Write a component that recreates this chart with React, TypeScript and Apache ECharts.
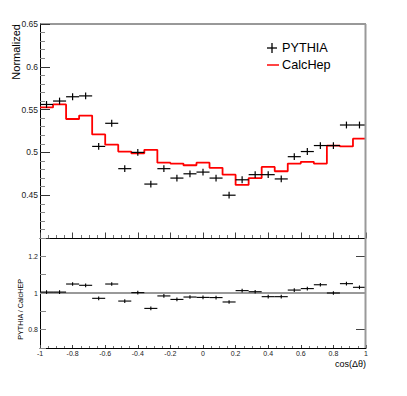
import React, { useEffect, useRef } from "react";
import * as echarts from "echarts";

// Bin centres and edges of cos(Δθ)
const binCenters = [-0.96, -0.88, -0.8, -0.72, -0.64, -0.56, -0.48, -0.4, -0.32, -0.24, -0.16, -0.08, 0, 0.08, 0.16, 0.24, 0.32, 0.4, 0.48, 0.56, 0.64, 0.72, 0.8, 0.88, 0.96];
const binEdges = [-1, -0.92, -0.84, -0.76, -0.68, -0.6, -0.52, -0.44, -0.36, -0.28, -0.2, -0.12, -0.04, 0.04, 0.12, 0.2, 0.28, 0.36, 0.44, 0.52, 0.6, 0.68, 0.76, 0.84, 0.92, 1];
const binHalfWidth = 0.04;

// PYTHIA (points with errors)
const pythia = [0.556, 0.56, 0.565, 0.566, 0.507, 0.534, 0.481, 0.5, 0.463, 0.481, 0.47, 0.475, 0.477, 0.47, 0.45, 0.468, 0.474, 0.474, 0.469, 0.495, 0.501, 0.508, 0.508, 0.532, 0.532];
const pythiaErr = [0.004, 0.004, 0.004, 0.004, 0.004, 0.004, 0.004, 0.004, 0.004, 0.004, 0.004, 0.004, 0.004, 0.004, 0.004, 0.004, 0.004, 0.004, 0.004, 0.004, 0.004, 0.004, 0.004, 0.004, 0.004];

// CalcHep histogram
const calchep = [0.5525, 0.556, 0.539, 0.543, 0.521, 0.509, 0.501, 0.499, 0.503, 0.488, 0.487, 0.485, 0.488, 0.482, 0.474, 0.462, 0.47, 0.483, 0.478, 0.487, 0.489, 0.487, 0.508, 0.507, 0.516];

// Ratio PYTHIA / CalcHEP
const ratio = [1.005, 1.005, 1.049, 1.042, 0.971, 1.049, 0.956, 1.002, 0.916, 0.984, 0.965, 0.978, 0.976, 0.975, 0.951, 1.013, 1.007, 0.98, 0.98, 1.016, 1.024, 1.045, 1.0, 1.051, 1.031];
const ratioErr = [0.01, 0.01, 0.01, 0.01, 0.01, 0.01, 0.01, 0.01, 0.01, 0.01, 0.01, 0.01, 0.01, 0.01, 0.01, 0.01, 0.01, 0.01, 0.01, 0.01, 0.01, 0.01, 0.01, 0.01, 0.01];

const ratioMajorTicks = [0.8, 1, 1.2];

const FONT = '"Liberation Sans", Arial, Helvetica, sans-serif';

function crossRenderer(lineWidth: number) {
  return (params: any, api: any) => {
    const x = api.value(0);
    const y = api.value(1);
    const e = api.value(2);
    const a = api.coord([x - binHalfWidth, y]);
    const b = api.coord([x + binHalfWidth, y]);
    const c = api.coord([x, y - e]);
    const d = api.coord([x, y + e]);
    return {
      type: "group",
      children: [
        { type: "line", shape: { x1: a[0], y1: a[1], x2: b[0], y2: b[1] }, style: { stroke: "#000", lineWidth } },
        { type: "line", shape: { x1: c[0], y1: c[1], x2: d[0], y2: d[1] }, style: { stroke: "#000", lineWidth } },
      ],
    };
  };
}

export default function App() {
  const ref = useRef<HTMLDivElement>(null);
  useEffect(() => {
    if (!ref.current) return;
    const chart = echarts.init(ref.current, undefined, { renderer: "svg" });

    const stepData: number[][] = [];
    for (let i = 0; i < calchep.length; i++) {
      stepData.push([binEdges[i], calchep[i]]);
      stepData.push([binEdges[i + 1], calchep[i]]);
    }

    const fmtX = (v: number) => String(Number(v.toFixed(2)));

    const option: any = {
      animation: false,
      backgroundColor: "#fff",
      textStyle: { fontFamily: FONT },
      grid: [
        { left: 40, top: 24, width: 326, height: 214 },
        { left: 40, top: 238, width: 326, height: 110 },
      ],
      xAxis: [
        {
          type: "value", gridIndex: 0, min: -1, max: 1, interval: 0.2,
          axisLine: { show: true, onZero: false, lineStyle: { color: "#000", width: 1 } },
          axisTick: { show: true, inside: true, length: 5.5, lineStyle: { color: "#444" } },
          minorTick: { show: true, splitNumber: 4, length: 3, lineStyle: { color: "#777" } },
          axisLabel: { show: false },
          splitLine: { show: false },
        },
        {
          type: "value", gridIndex: 1, min: -1, max: 1, interval: 0.2,
          axisLine: { show: true, onZero: false, lineStyle: { color: "#000", width: 1 } },
          axisTick: { show: true, inside: true, length: 3, lineStyle: { color: "#444" } },
          minorTick: { show: true, splitNumber: 4, length: 2, lineStyle: { color: "#777" } },
          axisLabel: { show: true, margin: 2, fontSize: 7, color: "#222", fontFamily: FONT, formatter: fmtX },
          splitLine: { show: false },
        },
      ],
      yAxis: [
        {
          type: "value", gridIndex: 0, min: 0.4, max: 0.65, interval: 0.05,
          axisLine: { show: true, onZero: false, lineStyle: { color: "#000", width: 1 } },
          axisTick: { show: true, inside: true, length: 10, lineStyle: { color: "#333" } },
          minorTick: { show: true, splitNumber: 5, length: 5, lineStyle: { color: "#888" } },
          axisLabel: { show: true, margin: 2, fontSize: 8.5, color: "#222", fontFamily: FONT, showMinLabel: false },
          splitLine: { show: false },
        },
        {
          type: "value", gridIndex: 1, min: 0.7, max: 1.3, interval: 0.1,
          axisLine: { show: true, onZero: false, lineStyle: { color: "#000", width: 1 } },
          axisTick: { show: true, inside: true, length: 6, lineStyle: { color: "#888" } },
          axisLabel: {
            show: true, margin: 2, fontSize: 7, color: "#222", fontFamily: FONT,
            formatter: (v: number) => {
              const r = Number(v.toFixed(2));
              return ratioMajorTicks.indexOf(r) >= 0 ? String(r) : "";
            },
          },
          splitLine: { show: false },
        },
        {
          type: "value", gridIndex: 1, min: 0.7, max: 1.3,
          axisLine: { show: false, onZero: false },
          axisTick: { show: true, inside: true, length: 10, customValues: ratioMajorTicks, lineStyle: { color: "#444" } },
          axisLabel: { show: false },
          splitLine: { show: false },
        },
      ],
      series: [
        {
          type: "line", xAxisIndex: 0, yAxisIndex: 0, data: stepData,
          showSymbol: false, symbol: "none",
          lineStyle: { color: "#ff0000", width: 1.8 },
          z: 2,
        },
        {
          type: "custom", xAxisIndex: 0, yAxisIndex: 0,
          data: binCenters.map((x, i) => [x, pythia[i], pythiaErr[i]]),
          renderItem: crossRenderer(1.2),
          z: 3,
        },
        {
          type: "custom", xAxisIndex: 1, yAxisIndex: 1,
          data: binCenters.map((x, i) => [x, ratio[i], ratioErr[i]]),
          renderItem: crossRenderer(1.1),
          z: 3,
          markLine: {
            silent: true, symbol: "none", label: { show: false },
            lineStyle: { color: "#999", width: 2, type: "solid" },
            data: [{ yAxis: 1 }],
            z: 1,
          },
        },
      ],
      graphic: [
        { type: "line", shape: { x1: 40, y1: 24, x2: 366, y2: 24 }, style: { stroke: "#333", lineWidth: 1 }, z: 10 },
        { type: "line", shape: { x1: 365.5, y1: 24, x2: 365.5, y2: 348 }, style: { stroke: "#999", lineWidth: 2 }, z: 10 },
        // legend
        { type: "line", shape: { x1: 267, y1: 48, x2: 277, y2: 48 }, style: { stroke: "#000", lineWidth: 1.3 } },
        { type: "line", shape: { x1: 272, y1: 43, x2: 272, y2: 53 }, style: { stroke: "#000", lineWidth: 1.3 } },
        { type: "text", x: 282, y: 48, style: { text: "PYTHIA", font: `12.7px ${FONT}`, fill: "#000", verticalAlign: "middle", align: "left" } },
        { type: "line", shape: { x1: 267, y1: 65, x2: 279, y2: 65 }, style: { stroke: "#ff4444", lineWidth: 2 } },
        { type: "text", x: 282, y: 65, style: { text: "CalcHep", font: `12.7px ${FONT}`, fill: "#000", verticalAlign: "middle", align: "left" } },
        // axis titles
        { type: "text", x: 16, y: 24, rotation: Math.PI / 2, style: { text: "Normalized", font: `11px ${FONT}`, fill: "#000", align: "right", verticalAlign: "middle" } },
        { type: "text", x: 20, y: 279, rotation: Math.PI / 2, style: { text: "PYTHIA / CalcHEP", font: `7.2px ${FONT}`, fill: "#000", align: "right", verticalAlign: "middle" } },
        { type: "text", x: 366, y: 364, style: { text: "cos(Δθ)", font: `9px ${FONT}`, fill: "#000", align: "right", verticalAlign: "middle" } },
      ],
    };
    chart.setOption(option);
    return () => chart.dispose();
  }, []);
  return <div ref={ref} style={{ position: "fixed", left: 0, top: 0, width: 407, height: 396 }} />;
}
